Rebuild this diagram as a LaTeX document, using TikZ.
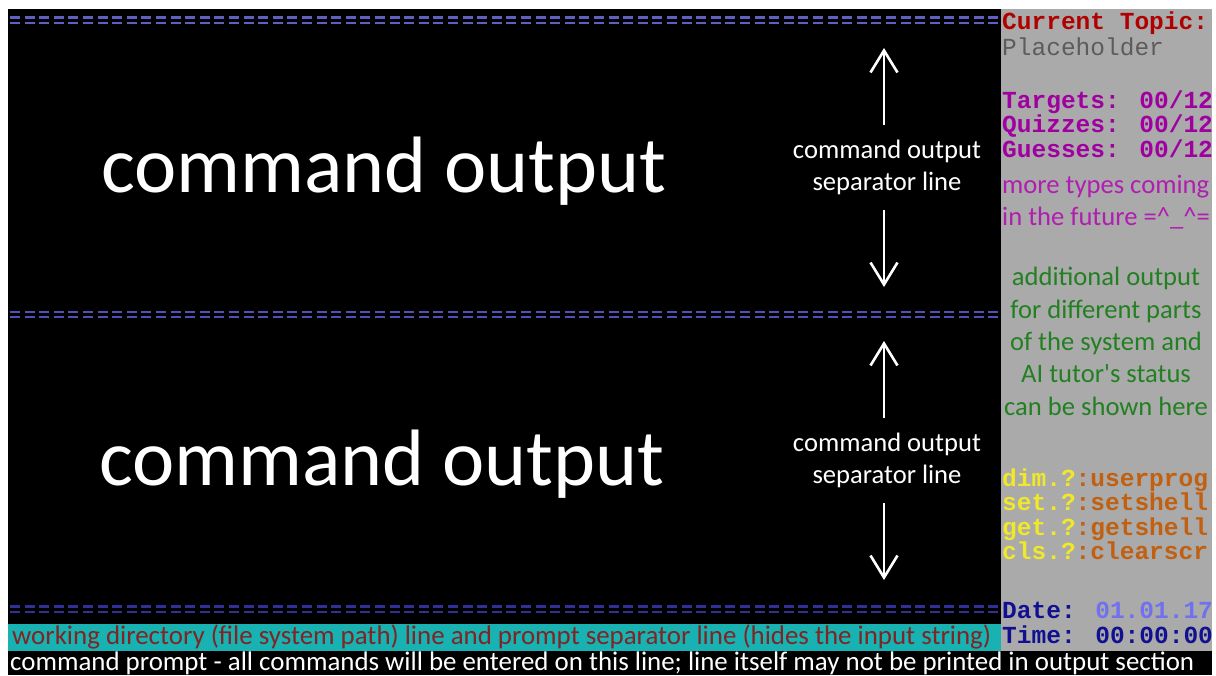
\documentclass[tikz,border=0pt]{standalone}
\usepackage{fontspec}
\setmainfont{Carlito}
\newfontfamily\rawsans{Carlito}
\newfontfamily\dosfont{Liberation Mono}
\usetikzlibrary{arrows.meta}
\definecolor{panelgrey}{RGB}{170,170,170}
\definecolor{cyanbar}{RGB}{24,178,178}
\definecolor{pathred}{RGB}{128,36,36}
\definecolor{topicred}{RGB}{176,0,0}
\definecolor{holdgrey}{RGB}{92,92,92}
\definecolor{dosmag}{RGB}{160,0,160}
\definecolor{sansmag}{RGB}{176,30,176}
\definecolor{dosgreen}{RGB}{34,128,34}
\definecolor{dosyellow}{RGB}{240,232,40}
\definecolor{dosorange}{RGB}{192,96,16}
\definecolor{dosblue}{RGB}{16,16,144}
\definecolor{doslight}{RGB}{112,112,240}
\definecolor{sepA}{RGB}{96,96,196}
\definecolor{sepB}{RGB}{80,80,184}
\definecolor{sepC}{RGB}{48,48,150}
\tikzset{
  bigtext/.style={font=\fontsize{80}{96}\selectfont, text=white, anchor=base west, inner sep=0pt},
  notetext/.style={font=\fontsize{26.6}{32}\selectfont, text=white, anchor=base, inner sep=0pt},
  sidetext/.style={font=\fontsize{26.6}{32}\selectfont, inner sep=0pt},
  dostext/.style={font=\dosfont\bfseries\fontsize{24.5}{25}\selectfont, anchor=base west, inner sep=0pt},
  dosthin/.style={font=\dosfont\fontsize{24.5}{25}\selectfont, anchor=base west, inner sep=0pt},
  bartext/.style={font=\fontsize{26.9}{28}\selectfont, anchor=base west, inner sep=0pt},
  arr/.style={draw=white, line width=2.6pt, -{Straight Barb[length=22pt,width=27pt]}},
  sepbar/.style={line width=2.4pt, dash pattern=on 10pt off 4.6pt},
}
\begin{document}
\begin{tikzpicture}[x=1pt,y=-1pt]
\useasboundingbox (0,0) rectangle (1216,675);
\fill[white] (0,0) rectangle (1216,675);
\fill[black] (8,9) rectangle (1001,651);
\fill[panelgrey] (1001,9) rectangle (1212,651);
\fill[black] (8,651) rectangle (1212,675);
\fill[cyanbar] (8,624) rectangle (1001,651);
% separator lines
\begin{scope}
\clip (8,0) rectangle (1000,675);
\draw[sepbar, sepA] (10,17.3) -- (1000,17.3);
\draw[sepbar, sepA] (10,23) -- (1000,23);
\draw[sepbar, sepB] (10,312) -- (1000,312);
\draw[sepbar, sepB] (10,317) -- (1000,317);
\draw[sepbar, sepC] (10,606.5) -- (1000,606.5);
\draw[sepbar, sepC] (10,612) -- (1000,612);
\end{scope}
% main output texts
\node[bigtext] (out1) at (101,192) {command output};
\node[bigtext] (out2) at (99,485) {command output};
% separator labels and arrows
\node[notetext] (lab1a) at (887,158) {command output};
\node[notetext] (lab1b) at (887,190) {separator line};
\node[notetext] (lab2a) at (887,451) {command output};
\node[notetext] (lab2b) at (887,483) {separator line};
\coordinate (u1s) at (884,125);
\coordinate (u1e) at (884,48);
\coordinate (d1s) at (884,210);
\coordinate (d1e) at (884,287);
\coordinate (u2s) at (884,418);
\coordinate (u2e) at (884,341);
\coordinate (d2s) at (884,503);
\coordinate (d2e) at (884,580);
\draw[arr] (u1s) -- (u1e);
\draw[arr] (d1s) -- (d1e);
\draw[arr] (u2s) -- (u2e);
\draw[arr] (d2s) -- (d2e);
% side panel
\node[dostext, text=topicred] (topic) at (1002,29) {Current Topic:};
\node[dosthin, text=holdgrey] (hold) at (1002,55) {Placeholder};
\node[dostext, text=dosmag] (targ) at (1002,108) {Targets: 00/12};
\node[dostext, text=dosmag] (quiz) at (1002,132.5) {Quizzes: 00/12};
\node[dostext, text=dosmag] (gues) at (1002,157) {Guesses: 00/12};
\node[sidetext, text=sansmag, anchor=base west] (more1) at (1002,193) {more types coming};
\node[sidetext, text=sansmag, anchor=base west] (more2) at (1002,225) {in the future =\^{}\_\^{}=};
\node[sidetext, text=dosgreen, anchor=base] (g1) at (1106,285) {additional output};
\node[sidetext, text=dosgreen, anchor=base] (g2) at (1106,318) {for different parts};
\node[sidetext, text=dosgreen, anchor=base] (g3) at (1106,350) {of the system and};
\node[sidetext, text=dosgreen, anchor=base] (g4) at (1106,382) {AI tutor{\rawsans '}s status};
\node[sidetext, text=dosgreen, anchor=base] (g5) at (1106,415) {can be shown here};
\node[dostext] (c1) at (1002,486) {\textcolor{dosyellow}{dim.?}\textcolor{dosorange}{:userprog}};
\node[dostext] (c2) at (1002,510.5) {\textcolor{dosyellow}{set.?}\textcolor{dosorange}{:setshell}};
\node[dostext] (c3) at (1002,535) {\textcolor{dosyellow}{get.?}\textcolor{dosorange}{:getshell}};
\node[dostext] (c4) at (1002,559.5) {\textcolor{dosyellow}{cls.?}\textcolor{dosorange}{:clearscr}};
\node[dostext] (date) at (1002,618) {\textcolor{dosblue}{Date:} \textcolor{doslight}{01.01.17}};
\node[dostext, text=dosblue] (time) at (1002,643) {Time: 00:00:00};
% bottom bars
\node[bartext, text=pathred] (path) at (12,644) {working directory (file system path) line and prompt separator line (hides the input string)};
\node[bartext, text=white] (prompt) at (10,670) {command prompt - all commands will be entered on this line; line itself may not be printed in output section};
\end{tikzpicture}
\end{document}
